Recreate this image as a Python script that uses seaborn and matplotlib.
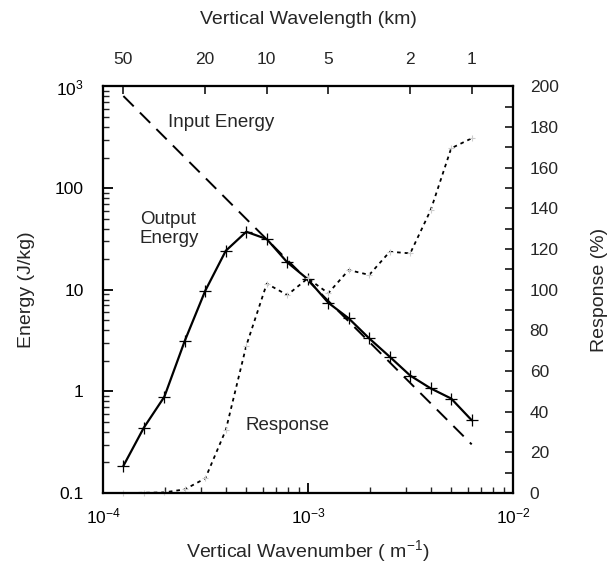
import numpy as np
import pandas as pd
import matplotlib
matplotlib.use("Agg")
import matplotlib.pyplot as plt
from matplotlib.ticker import FixedLocator, NullFormatter, LogLocator, MultipleLocator
import seaborn as sns

# Vertical wavenumber (m^-1) of each band, 50 km down to 1 km wavelength
wavenumber = [1.257e-4, 1.582e-4, 1.991e-4, 2.506e-4, 3.154e-4, 3.971e-4,
              4.998e-4, 6.291e-4, 7.919e-4, 9.968e-4, 1.255e-3, 1.579e-3,
              1.988e-3, 2.503e-3, 3.150e-3, 3.965e-3, 4.991e-3, 6.283e-3]
# Energy per band (J/kg)
input_energy = [805, 506, 318, 200, 126, 79.1, 49.7, 31.3, 19.6, 12.4,
                7.76, 4.88, 3.07, 1.93, 1.21, 0.762, 0.479, 0.301]
output_energy = [0.185, 0.44, 0.885, 3.15, 9.8, 24.2, 37.2, 31.5, 18.6, 12.7,
                 7.45, 5.23, 3.32, 2.19, 1.43, 1.07, 0.85, 0.52]
# Response (%)
response = [0.0, 0.1, 0.3, 1.8, 7.2, 31, 72.5, 103, 97.4, 105.6,
            98.3, 109.7, 107.3, 118.7, 117.9, 139.2, 169.6, 174.5]

# Top axis: vertical wavelength (km)
wavelength_ticks = [50, 20, 10, 5, 2, 1]
response_ticks = list(range(0, 201, 20))

df = pd.DataFrame({"m": wavenumber, "inp": input_energy,
                   "out": output_energy, "resp": response})

sns.set_theme(style="ticks")
plt.rcParams["font.family"] = ["Liberation Sans", "DejaVu Sans"]
plt.rcParams["mathtext.fontset"] = "custom"
plt.rcParams["mathtext.rm"] = "Liberation Sans"
plt.rcParams["mathtext.it"] = "Liberation Sans"

TICK_FS = 12.5
LABEL_FS = 14
NOTE_FS = 13.5

fig = plt.figure(figsize=(6.10, 5.73), dpi=100)
ax = fig.add_axes([0.1689, 0.1396, 0.6722, 0.7095])

sns.lineplot(data=df, x="m", y="inp", ax=ax, color="black", lw=1.4,
             linestyle=(0, (7.5, 4.5)))
sns.lineplot(data=df, x="m", y="out", ax=ax, color="black", lw=1.6,
             marker="+", markersize=8, markeredgewidth=0.9, markeredgecolor="black")

ax.set_xscale("log")
ax.set_yscale("log")
ax.set_xlim(1e-4, 1e-2)
ax.set_ylim(0.1, 1000)
ax.set_xticks([1e-4, 1e-3, 1e-2])
ax.set_xticklabels([r"$10^{-4}$", r"$10^{-3}$", r"$10^{-2}$"])
ax.set_yticks([0.1, 1, 10, 100, 1000])
ax.set_yticklabels(["0.1", "1", "10", "100", r"$10^{3}$"])
ax.xaxis.set_minor_locator(LogLocator(base=10, subs=np.arange(2, 10)))
ax.yaxis.set_minor_locator(LogLocator(base=10, subs=np.arange(2, 10)))
ax.xaxis.set_minor_formatter(NullFormatter())
ax.yaxis.set_minor_formatter(NullFormatter())
ax.tick_params(which="major", direction="in", length=7, width=1.3,
               labelsize=TICK_FS, colors="black")
ax.tick_params(axis="y", which="major", pad=14)
ax.tick_params(axis="x", which="major", pad=10)
ax.tick_params(which="minor", direction="in", length=4, width=1.0)
ax.set_xlabel(r"Vertical Wavenumber ( m$^{-1}$)", fontsize=LABEL_FS, labelpad=8)
ax.set_ylabel("Energy (J/kg)", fontsize=LABEL_FS, labelpad=14)

# Response on the right-hand axis
axr = ax.twinx()
sns.lineplot(data=df, x="m", y="resp", ax=axr, color="black", lw=1.3,
             linestyle=(0, (2, 2.2)))
axr.plot(df["m"], df["resp"], ls="none", marker="+", ms=5,
         mec="#cccccc", mew=0.8, clip_on=False)
axr.set_ylim(0, 200)
axr.set_yticks(response_ticks)
axr.yaxis.set_minor_locator(MultipleLocator(10))
axr.tick_params(which="major", direction="in", length=6, width=1.3,
                labelsize=TICK_FS, pad=12)
axr.tick_params(which="minor", direction="in", length=6, width=1.3)
axr.set_ylabel("Response (%)", fontsize=LABEL_FS, labelpad=23)

# Top axis: wavelength in km, lambda = 2*pi/m
axt = ax.twiny()
axt.set_xscale("log")
axt.set_xlim(ax.get_xlim())
axt.xaxis.set_major_locator(FixedLocator([2 * np.pi / (w * 1000.0) for w in wavelength_ticks]))
axt.set_xticklabels([str(w) for w in wavelength_ticks])
axt.xaxis.set_minor_locator(FixedLocator([]))
axt.tick_params(which="major", direction="in", length=6, width=1.3,
                labelsize=TICK_FS, pad=14)
axt.set_xlabel("Vertical Wavelength (km)", fontsize=LABEL_FS, labelpad=20)

for a in (ax, axr, axt):
    for s in a.spines.values():
        s.set_linewidth(1.5)
        s.set_color("black")

ax.text(2.07e-4, 447, "Input Energy", fontsize=NOTE_FS, va="center", ha="left")
ax.text(1.51e-4, 40, "Output\nEnergy", fontsize=NOTE_FS, va="center", ha="left",
        linespacing=1.15)
ax.text(4.93e-4, 0.466, "Response", fontsize=NOTE_FS, va="center", ha="left")

fig.savefig("out.png", dpi=100)
